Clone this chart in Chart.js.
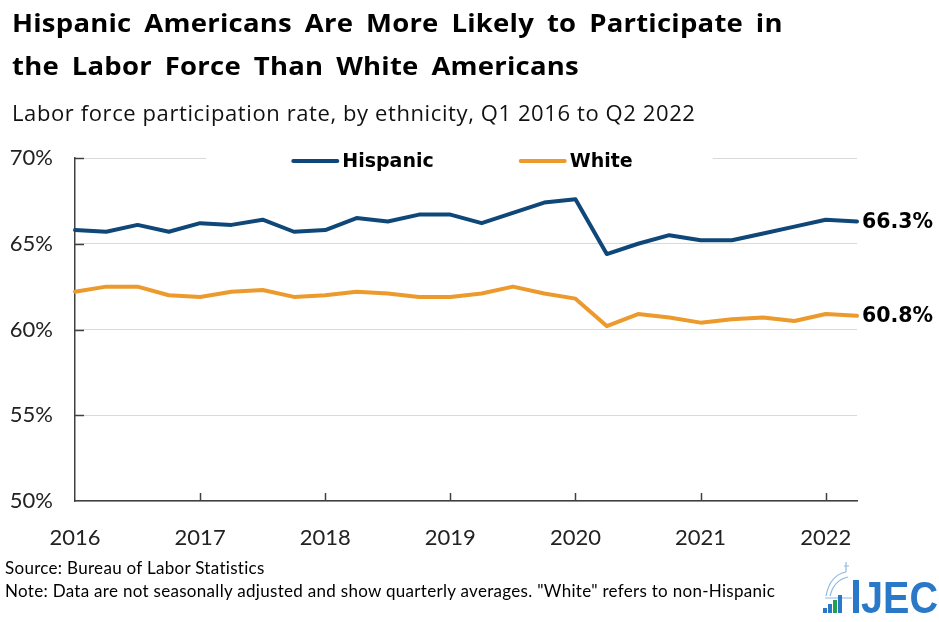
<!DOCTYPE html>
<html>
<head>
<meta charset="utf-8">
<script src="https://cdn.jsdelivr.net/npm/chart.js@4/dist/chart.umd.min.js"></script>
<style>
  html, body { margin:0; padding:0; background:#fff; }
  #wrap { position:relative; width:939px; height:622px; overflow:hidden; }
  #c { position:absolute; left:0; top:0; }
  .t { position:absolute; white-space:nowrap; color:#000; }
  #title { left:12px; top:1px; font-family:"Open Sans", sans-serif; font-weight:700; font-size:25px; line-height:43px; letter-spacing:0.2px; word-spacing:5px; transform:scaleX(1.1); transform-origin:0 0; }
  #sub { left:12px; top:97px; font-family:"Open Sans", sans-serif; font-size:22px; line-height:30px; letter-spacing:0.6px; color:#111; }
  #src { left:5px; top:558px; font-family:Lato, sans-serif; font-size:17px; line-height:20px; letter-spacing:0.3px; }
  #note { left:5px; top:581px; font-family:Lato, sans-serif; font-size:17px; line-height:20px; letter-spacing:0.3px; }
</style>
</head>
<body>
<div id="wrap">
  <canvas id="c" width="939" height="622"></canvas>
  <div class="t" id="title">Hispanic Americans Are More Likely to Participate in<br>the Labor Force Than White Americans</div>
  <div class="t" id="sub">Labor force participation rate, by ethnicity, Q1 2016 to Q2 2022</div>
  <div class="t" id="src">Source: Bureau of Labor Statistics</div>
  <div class="t" id="note">Note: Data are not seasonally adjusted and show quarterly averages. "White" refers to non-Hispanic</div>
</div>
<script>
// ---- Data ----
const quarters = [
  "2016 Q1","2016 Q2","2016 Q3","2016 Q4",
  "2017 Q1","2017 Q2","2017 Q3","2017 Q4",
  "2018 Q1","2018 Q2","2018 Q3","2018 Q4",
  "2019 Q1","2019 Q2","2019 Q3","2019 Q4",
  "2020 Q1","2020 Q2","2020 Q3","2020 Q4",
  "2021 Q1","2021 Q2","2021 Q3","2021 Q4",
  "2022 Q1","2022 Q2"
];
const hispanic = [65.8,65.7,66.1,65.7, 66.2,66.1,66.4,65.7, 65.8,66.5,66.3,66.7, 66.7,66.2,66.8,67.4, 67.6,64.4,65.0,65.5, 65.2,65.2,65.6,66.0, 66.4,66.3];
const white    = [62.2,62.5,62.5,62.0, 61.9,62.2,62.3,61.9, 62.0,62.2,62.1,61.9, 61.9,62.1,62.5,62.1, 61.8,60.2,60.9,60.7, 60.4,60.6,60.7,60.5, 60.9,60.8];
const seriesNames = ["Hispanic","White"];
const yTickValues = [50,55,60,65,70];

const navy = "#0f4878";
const orange = "#ec9a2c";

const extras = {
  id: "extras",
  afterDraw(chart) {
    const ctx = chart.ctx;
    const area = chart.chartArea;
    const xs = chart.scales.x, ys = chart.scales.y;
    ctx.save();
    // inside tick marks on y axis
    ctx.strokeStyle = "#404040";
    ctx.lineWidth = 1.5;
    yTickValues.forEach(v => {
      if (v === 50) return;
      const y = Math.round(ys.getPixelForValue(v)) + 0.5;
      ctx.beginPath(); ctx.moveTo(area.left, y); ctx.lineTo(area.left + 9, y); ctx.stroke();
    });
    // inside tick marks on x axis (year starts)
    quarters.forEach((q, i) => {
      if (i % 4 !== 0 || i === 0) return;
      const x = Math.round(xs.getPixelForValue(i)) + 0.5;
      ctx.beginPath(); ctx.moveTo(x, area.bottom); ctx.lineTo(x, area.bottom - 8); ctx.stroke();
    });

    // legend
    const ds = chart.data.datasets;
    ctx.font = "bold 19px 'DejaVu Sans', sans-serif";
    const sw = 48, gapT = 3, gapItem = 85;
    const widths = ds.map(d => sw + gapT + ctx.measureText(d.label).width);
    const total = widths.reduce((a,b)=>a+b,0) + gapItem*(ds.length-1);
    let lx = (area.left + area.right)/2 - total/2 - 4;
    const ly = 161;
    ctx.fillStyle = "#fff";
    ctx.fillRect(lx - 85, ly - 12, total + 165, 24);
    ds.forEach((d, i) => {
      ctx.strokeStyle = d.borderColor; ctx.lineWidth = 4; ctx.lineCap = "round";
      ctx.beginPath(); ctx.moveTo(lx + 2, ly); ctx.lineTo(lx + sw - 2, ly); ctx.stroke();
      ctx.fillStyle = "#000"; ctx.textBaseline = "middle"; ctx.textAlign = "left";
      ctx.fillText(d.label, lx + sw + gapT, ly + 1);
      lx += widths[i] + gapItem;
    });

    // end labels
    ctx.font = "bold 20.5px 'DejaVu Sans', sans-serif";
    ctx.fillStyle = "#000"; ctx.textBaseline = "middle"; ctx.textAlign = "left";
    ds.forEach(d => {
      const n = d.data.length - 1;
      const v = d.data[n];
      const x = xs.getPixelForValue(n) + 5;
      const y = ys.getPixelForValue(v) + 1;
      ctx.fillText(v.toFixed(1) + "%", x, y);
    });

    // JEC logo
    const bx = 823, by = 613;
    ctx.lineCap = "butt";
    ctx.strokeStyle = "#8fb9e0"; ctx.lineWidth = 1.2;
    ctx.beginPath();
    ctx.moveTo(826, 596); ctx.quadraticCurveTo(830, 575, 846, 572);
    ctx.moveTo(830, 596); ctx.quadraticCurveTo(834, 580, 848, 577);
    ctx.moveTo(846, 572); ctx.lineTo(846, 562);
    ctx.moveTo(844, 566); ctx.lineTo(849, 566);
    ctx.moveTo(825, 598); ctx.lineTo(852, 598);
    ctx.stroke();
    ctx.fillStyle = "#2a78c8";
    ctx.fillRect(bx, by - 5, 4, 5);
    ctx.fillRect(bx + 5, by - 9, 4, 9);
    ctx.fillStyle = "#23a24d";
    ctx.fillRect(bx + 10, by - 13, 4, 13);
    ctx.fillStyle = "#2a78c8";
    ctx.fillRect(bx + 15, by - 18, 4, 18);
    ctx.fillRect(bx + 30, by - 33, 6, 33);
    ctx.font = "bold 44px 'Liberation Sans', Arial, sans-serif";
    ctx.textBaseline = "alphabetic";
    ctx.fillText("JEC", 861, by, 77);
    ctx.restore();
  }
};

new Chart(document.getElementById("c"), {
  type: "line",
  data: {
    labels: quarters,
    datasets: [
      { label: seriesNames[0], data: hispanic, borderColor: navy, backgroundColor: navy, borderWidth: 4, pointRadius: 0, tension: 0, borderJoinStyle: "round", borderCapStyle: "round" },
      { label: seriesNames[1], data: white, borderColor: orange, backgroundColor: orange, borderWidth: 4, pointRadius: 0, tension: 0, borderJoinStyle: "round", borderCapStyle: "round" }
    ]
  },
  options: {
    responsive: false,
    animation: false,
    events: [],
    layout: { padding: { left: 0, right: 82, top: 158, bottom: 0 } },
    plugins: { legend: { display: false }, title: { display: false }, tooltip: { enabled: false } },
    scales: {
      x: {
        type: "category",
        offset: false,
        grid: { display: false, drawTicks: false },
        border: { display: true, color: "#404040", width: 1.5 },
        ticks: {
          autoSkip: false, maxRotation: 0, minRotation: 0, padding: 24,
          color: "#222",
          font: { family: "Lato", size: 22 },
          callback: (v, i) => (i % 4 === 0 ? quarters[i].slice(0, 4) : "")
        },
        afterFit: s => { s.height = 121; }
      },
      y: {
        min: 50, max: 70,
        afterBuildTicks: s => { s.ticks = yTickValues.map(v => ({ value: v })); },
        grid: { color: "#d9d9d9", lineWidth: 1, drawTicks: false },
        border: { display: true, color: "#404040", width: 1.5 },
        ticks: {
          padding: 22, color: "#222",
          font: { family: "Lato", size: 22 },
          callback: v => v + "%"
        },
        afterFit: s => { s.width = 75; }
      }
    }
  },
  plugins: [extras]
});
</script>
</body>
</html>
